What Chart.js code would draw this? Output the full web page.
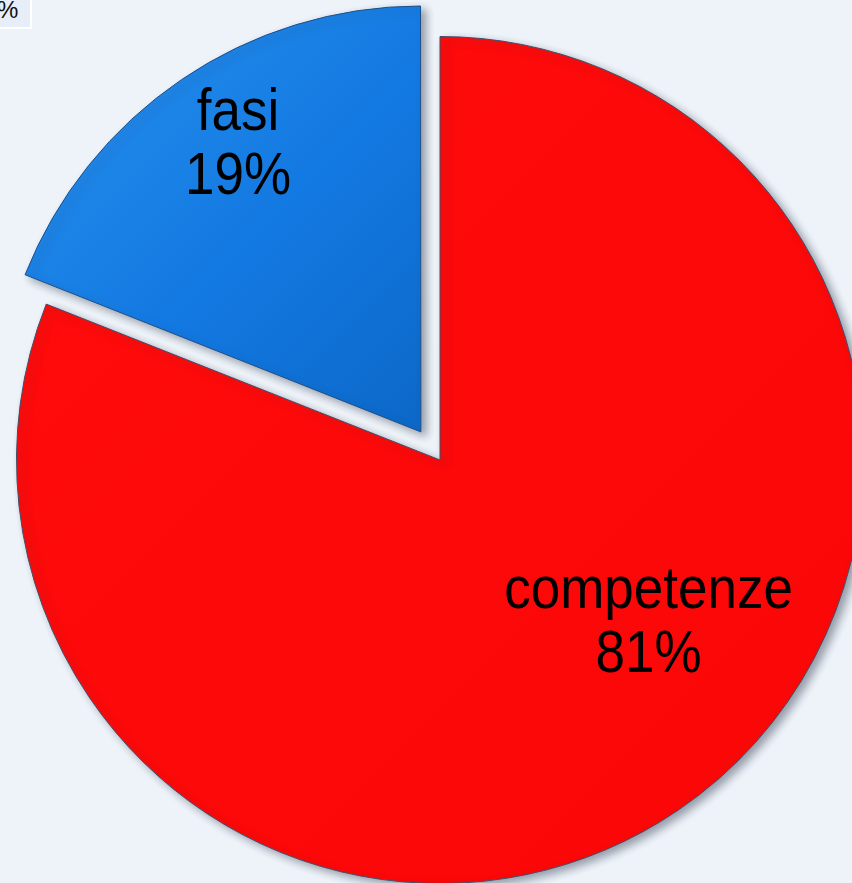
<!DOCTYPE html>
<html>
<head>
<meta charset="utf-8">
<script src="https://cdn.jsdelivr.net/npm/chart.js@4.4.1/dist/chart.umd.min.js"></script>
<style>
  html, body { margin:0; padding:0; width:852px; height:883px; overflow:hidden; background:#eef3f9; }
  #wrap { position:absolute; left:-52px; top:-32px; width:984px; height:984px; }
  #pct { position:absolute; left:0; top:0; width:30px; height:27px; background:#e7eef8;
         border-right:2px solid #ffffff; border-bottom:2px solid #ffffff; overflow:hidden; }
  #pct span { position:absolute; left:-3px; top:-4px; font:24px "Liberation Sans", Arial, sans-serif; color:#111; }
</style>
</head>
<body>
<div id="wrap"><canvas id="c" width="984" height="984" style="width:984px;height:984px"></canvas></div>
<div id="pct"><span>%</span></div>
<script>
const categories = ['competenze', 'fasi'];
const values = [81, 19];
// Chart.js v4 draws an arc offset at offset/4 px
const offsets = [0, 136];

// label placement (polar, relative to pie centre): angle clockwise from top (deg), fraction of radius
const labelPos = [
  { angle: 127.9, frac: 0.624 },
  { angle: -32.6, frac: 0.885 }
];

function fillFor(ctx) {
  const chart = ctx.chart;
  const area = chart.chartArea;
  if (!area) return ctx.dataIndex === 0 ? '#ff0909' : '#1478e0';
  const g = chart.ctx.createLinearGradient(area.left + 40, area.top + 40, area.right - 40, area.bottom - 40);
  if (ctx.dataIndex === 0) {
    g.addColorStop(0, '#ff0c0c');
    g.addColorStop(1, '#fb0606');
  } else {
    g.addColorStop(0, '#2b95ee');
    g.addColorStop(0.3, '#1379e2');
    g.addColorStop(0.5, '#0c68c8');
    g.addColorStop(1, '#0a58b0');
  }
  return g;
}

const shadowPlugin = {
  id: 'shadow',
  beforeDatasetsDraw(chart) {
    const c = chart.ctx;
    c.save();
    c.shadowColor = 'rgba(40,50,70,0.45)';
    c.shadowBlur = 9;
    c.shadowOffsetX = 5;
    c.shadowOffsetY = 4;
  },
  afterDatasetsDraw(chart) {
    chart.ctx.restore();
  }
};

const labelPlugin = {
  id: 'sliceLabels',
  afterDatasetsDraw(chart) {
    const c = chart.ctx;
    const meta = chart.getDatasetMeta(0);
    meta.data.forEach((arc, i) => {
      const p = labelPos[i];
      const a = p.angle * Math.PI / 180;
      const r = arc.outerRadius * p.frac;
      const x = arc.x + r * Math.sin(a);
      const y = arc.y - r * Math.cos(a);
      const lines = [categories[i], values[i] + '%'];
      c.save();
      c.translate(x, y);
      c.scale(1, 1.12);
      c.fillStyle = '#000';
      c.font = '53px "Liberation Sans", Arial, sans-serif';
      c.textAlign = 'center';
      c.textBaseline = 'alphabetic';
      const lh = 57.5;
      c.fillText(lines[0], 0, -lh / 2 + 16);
      c.fillText(lines[1], 0, lh / 2 + 16);
      c.restore();
    });
  }
};

new Chart(document.getElementById('c'), {
  type: 'pie',
  data: {
    labels: categories,
    datasets: [{
      data: values,
      backgroundColor: fillFor,
      borderColor: ['#3e4f6a', '#1d4f8a'],
      borderWidth: 1,
      offset: offsets
    }]
  },
  options: {
    responsive: false,
    animation: false,
    layout: { padding: 0 },
    plugins: { legend: { display: false }, tooltip: { enabled: false } }
  },
  plugins: [shadowPlugin, labelPlugin]
});
</script>
</body>
</html>
